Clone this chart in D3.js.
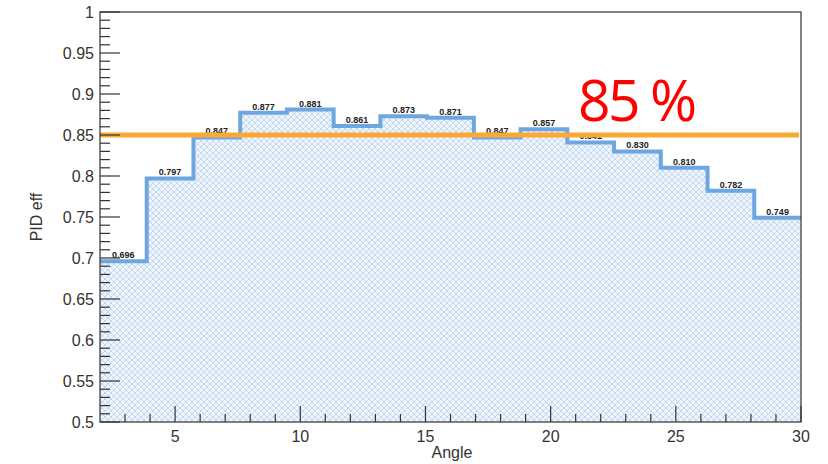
<!DOCTYPE html>
<html lang="en">
<head>
<meta charset="UTF-8">
<script src="https://d3js.org/d3.v7.min.js"></script>
<title>PID eff vs Angle</title>
<style>
  body { margin: 0; background: #fff; }
  text { font-family: "Liberation Sans", Arial, sans-serif; }
</style>
</head>
<body>
<script>
// bin edges run evenly from 2 to 30, 15 bins
var binStart = 2, binEnd = 30;
var effValues = [0.696, 0.797, 0.847, 0.877, 0.881, 0.861, 0.873, 0.871,
                 0.847, 0.857, 0.841, 0.830, 0.810, 0.782, 0.749];
var xTicks = [5, 10, 15, 20, 25, 30];
var yTicks = [0.5, 0.55, 0.6, 0.65, 0.7, 0.75, 0.8, 0.85, 0.9, 0.95, 1];
var threshold = 0.85;
var thresholdLabel = "85 %";

var width = 828, height = 464;
// plot box (note: "top" is a reserved window prop, so use other names)
var pLeft = 100, pRight = 801, pTop = 12, pBottom = 422;

var svg = d3.select("body").append("svg")
    .attr("width", width)
    .attr("height", height);

var x = d3.scaleLinear().domain([binStart, binEnd]).range([pLeft, pRight]);
var y = d3.scaleLinear().domain([0.5, 1]).range([pBottom, pTop]);

var binW = (binEnd - binStart) / effValues.length;
var bins = effValues.map(function (v, i) {
    return { x0: binStart + i * binW, x1: binStart + (i + 1) * binW, v: v };
});

// crosshatch pattern
var defs = svg.append("defs");
var pat = defs.append("pattern")
    .attr("id", "hatch")
    .attr("patternUnits", "userSpaceOnUse")
    .attr("width", 6).attr("height", 6);
pat.append("rect").attr("width", 6).attr("height", 6).attr("fill", "#eef4fb");
pat.append("path").attr("d", "M0,0L6,6M6,0L0,6")
    .attr("stroke", "#b9d1ee").attr("stroke-width", 0.8);

// filled area under the histogram
var stepPts = [];
bins.forEach(function (b) {
    stepPts.push([x(b.x0), y(b.v)]);
    stepPts.push([x(b.x1), y(b.v)]);
});
var area = d3.area()
    .x(function (d) { return d[0]; })
    .y0(y(0.5))
    .y1(function (d) { return d[1]; });
svg.append("path").datum(stepPts)
    .attr("d", area)
    .attr("fill", "url(#hatch)");

// outline
svg.append("path").datum(stepPts)
    .attr("d", d3.line())
    .attr("fill", "none")
    .attr("stroke", "#6ea6df")
    .attr("stroke-width", 4);

// bin value labels
svg.selectAll(".lbl").data(bins).enter().append("text")
    .attr("class", "lbl")
    .attr("x", function (d) { return x((d.x0 + d.x1) / 2); })
    .attr("y", function (d) { return y(d.v) - 3; })
    .attr("text-anchor", "middle")
    .attr("font-size", 9)
    .attr("font-weight", "bold")
    .attr("fill", "#222")
    .text(function (d) { return d.v.toFixed(3); });

// threshold line
svg.append("line")
    .attr("x1", x(binStart)).attr("x2", x(binEnd) - 2)
    .attr("y1", y(threshold)).attr("y2", y(threshold))
    .attr("stroke", "#f9a934")
    .attr("stroke-width", 5);

svg.append("text")
    .attr("x", 578).attr("y", 121)
    .attr("font-size", 57)
    .attr("fill", "#ff0000")
    .style("font-family", "'Open Sans', sans-serif")
    .attr("textLength", 119)
    .text(thresholdLabel);

// frame
svg.append("rect")
    .attr("x", pLeft).attr("y", pTop)
    .attr("width", pRight - pLeft).attr("height", pBottom - pTop)
    .attr("fill", "none").attr("stroke", "#333").attr("stroke-width", 1.2);

// y axis ticks
var yMinor = d3.range(50, 101).map(function (d) { return d / 100; });
svg.selectAll(".ymin").data(yMinor).enter().append("line")
    .attr("x1", pLeft).attr("x2", function (d) {
        return pLeft + (Math.round(d * 100) % 5 === 0 ? 20 : 10);
    })
    .attr("y1", function (d) { return y(d); })
    .attr("y2", function (d) { return y(d); })
    .attr("stroke", "#333").attr("stroke-width", 1.2);

svg.selectAll(".ylab").data(yTicks).enter().append("text")
    .attr("x", pLeft - 6)
    .attr("y", function (d) { return y(d) + 6; })
    .attr("text-anchor", "end")
    .attr("font-size", 16)
    .attr("fill", "#333")
    .text(function (d) { return d3.format("")(d); });

// x axis ticks
var xMinor = d3.range(3, 31);
svg.selectAll(".xmin").data(xMinor).enter().append("line")
    .attr("x1", function (d) { return x(d); })
    .attr("x2", function (d) { return x(d); })
    .attr("y1", pBottom)
    .attr("y2", function (d) { return pBottom - (d % 5 === 0 ? 16 : 8); })
    .attr("stroke", "#333").attr("stroke-width", 1.2);

svg.selectAll(".xlab").data(xTicks).enter().append("text")
    .attr("x", function (d) { return x(d); })
    .attr("y", 442)
    .attr("text-anchor", "middle")
    .attr("font-size", 16)
    .attr("fill", "#333")
    .text(function (d) { return d; });

// axis titles
svg.append("text")
    .attr("x", 452).attr("y", 458)
    .attr("text-anchor", "middle")
    .attr("font-size", 16)
    .attr("fill", "#333")
    .text("Angle");

svg.append("text")
    .attr("transform", "translate(42,217) rotate(-90)")
    .attr("text-anchor", "middle")
    .attr("font-size", 16)
    .attr("fill", "#333")
    .text("PID eff");
</script>
</body>
</html>
